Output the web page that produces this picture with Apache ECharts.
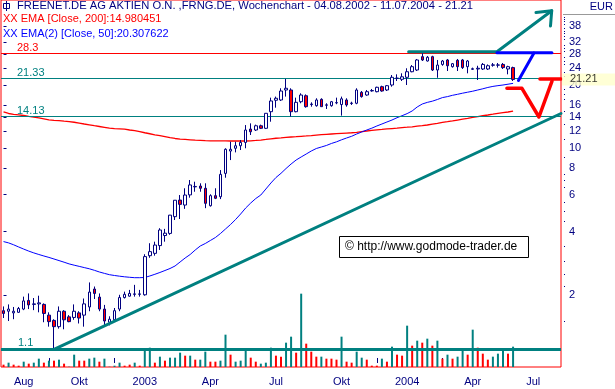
<!DOCTYPE html>
<html><head><meta charset="utf-8">
<script src="https://cdn.jsdelivr.net/npm/echarts@6/dist/echarts.min.js"></script>
<style>html,body{margin:0;padding:0;background:#fff}#c{width:615px;height:389px}</style>
</head><body><div id="c"></div>
<script>
// ---- data ----
const weekStart = '2002-08-04';
const slotCount = 111;
const openP  = [1.68,1.67,1.64,1.65,1.71,1.88,1.80,1.81,1.80,1.60,1.51,1.41,1.67,1.57,1.56,1.64,1.60,1.75,2.13,1.95,1.71,1.48,1.52,1.71,1.94,1.97,2.01,2.01,2.00,3.07,3.15,3.43,3.83,3.92,4.71,5.65,5.35,5.98,6.53,6.59,6.43,5.31,5.93,5.86,7.57,9.67,9.97,10.25,10.63,12.31,12.18,12.76,12.41,14.89,16.88,16.93,18.89,18.89,14.89,16.61,17.74,16.10,15.90,17.05,15.98,15.90,16.40,16.10,16.93,16.30,16.33,18.41,17.88,18.70,18.54,19.59,18.89,19.95,21.45,21.24,21.71,23.08,23.52,27.22,25.96,27.22,23.52,25.00,26.25,24.39,26.16,26.25,24.39,23.70,23.78,23.78,23.78,24.78,24.80,25.00,23.78,24.14];
const highP  = [1.76,1.80,1.75,1.75,1.96,2.03,1.93,1.98,1.82,1.65,1.53,1.76,1.69,1.60,1.80,1.67,1.92,2.29,2.19,2.03,1.79,1.58,1.73,2.00,2.07,2.11,2.23,2.11,3.12,3.52,3.58,4.15,4.12,4.80,5.65,5.97,6.43,7.04,6.91,6.79,6.79,6.02,6.43,7.85,9.97,10.71,10.71,10.91,12.86,13.10,12.92,12.92,14.65,17.37,17.57,19.25,21.33,19.25,17.37,18.22,18.00,16.50,17.25,17.25,16.33,16.75,17.37,17.57,17.25,16.61,19.25,18.68,18.89,19.10,19.58,19.80,19.95,22.26,22.43,22.68,23.97,24.83,26.54,28.30,27.40,27.50,26.25,26.25,26.54,25.40,26.54,26.54,26.25,24.14,24.64,25.40,25.00,25.40,25.40,25.40,24.64,24.39];
const lowP   = [1.55,1.50,1.53,1.64,1.69,1.71,1.69,1.65,1.48,1.41,1.10,1.38,1.37,1.48,1.52,1.46,1.41,1.67,1.91,1.67,1.43,1.43,1.49,1.67,1.92,1.96,1.96,1.96,1.98,3.00,3.07,3.27,3.58,3.86,4.54,4.59,5.13,5.80,6.19,6.19,5.17,5.26,5.71,5.71,7.22,8.76,9.53,9.78,9.97,11.53,12.05,12.31,12.31,13.34,15.56,16.75,17.57,14.13,14.79,16.33,15.56,15.73,15.73,15.73,15.34,15.73,16.16,14.26,15.73,16.03,16.16,17.37,17.74,18.54,18.41,18.54,18.68,19.59,20.85,20.85,19.95,22.94,23.26,25.96,25.80,23.26,21.60,24.64,23.26,24.14,23.26,23.79,22.68,23.52,21.08,23.52,23.52,24.39,24.14,23.78,22.43,20.85];
const closeP = [1.63,1.71,1.67,1.72,1.87,1.79,1.81,1.83,1.63,1.49,1.41,1.67,1.52,1.49,1.67,1.55,1.81,2.06,2.03,1.71,1.50,1.53,1.68,1.94,2.01,2.03,2.02,2.02,3.04,3.21,3.45,4.07,3.93,4.79,5.64,5.39,5.97,6.67,6.56,6.43,5.45,5.93,5.76,7.49,9.86,9.86,10.25,10.63,12.18,11.95,12.76,12.41,14.63,16.75,17.25,18.68,19.25,14.89,16.50,17.88,15.73,16.20,16.93,15.73,16.05,16.61,16.45,17.15,16.03,16.36,18.89,17.57,18.54,18.78,19.46,18.68,19.80,21.71,21.52,21.83,23.08,24.39,26.25,26.25,27.04,23.52,24.83,25.96,24.64,25.20,24.39,24.14,25.96,23.85,23.97,25.00,24.64,24.88,24.86,24.14,24.39,21.21];
const ema200 = [14.84,14.60,14.47,14.39,14.28,14.14,14.02,13.90,13.76,13.62,13.55,13.49,13.42,13.36,13.26,13.14,13.01,12.90,12.77,12.66,12.55,12.44,12.37,12.33,12.29,12.18,12.09,11.98,11.82,11.69,11.56,11.46,11.33,11.20,11.10,11.02,10.98,10.94,10.90,10.87,10.84,10.82,10.82,10.81,10.81,10.80,10.80,10.80,10.80,10.82,10.86,10.91,10.98,11.06,11.13,11.18,11.24,11.28,11.32,11.37,11.41,11.46,11.52,11.57,11.62,11.66,11.70,11.74,11.78,11.82,11.88,11.97,12.05,12.13,12.21,12.26,12.32,12.38,12.44,12.51,12.56,12.62,12.70,12.77,12.87,13.00,13.11,13.23,13.34,13.46,13.59,13.72,13.85,13.99,14.11,14.24,14.36,14.49,14.63,14.74,14.84,14.98];
const ema50  = [3.584,3.533,3.460,3.378,3.301,3.229,3.166,3.111,3.060,3.013,2.961,2.910,2.859,2.806,2.767,2.731,2.695,2.660,2.616,2.568,2.529,2.493,2.471,2.452,2.436,2.423,2.412,2.412,2.418,2.458,2.504,2.554,2.610,2.668,2.743,2.866,2.994,3.111,3.268,3.415,3.510,3.627,3.748,3.916,4.115,4.323,4.566,4.850,5.179,5.471,5.747,5.972,6.379,6.813,7.236,7.577,7.986,8.389,8.765,9.064,9.363,9.676,9.945,10.11,10.28,10.51,10.70,10.94,11.16,11.37,11.66,11.92,12.18,12.43,12.73,13.01,13.30,13.59,13.94,14.25,14.58,15.01,15.68,16.20,16.49,16.71,17.02,17.38,17.57,17.82,18.02,18.24,18.44,18.64,18.89,19.14,19.42,19.65,19.81,19.95,20.13,20.31];
const volume = [7,13,7,4,16,10,13,25,13,19,19,22,10,1,37,19,19,25,28,16,25,1,4,13,4,7,13,4,52,58,13,31,19,28,28,43,34,34,22,22,46,16,16,19,97,37,16,19,49,28,16,10,13,58,34,31,73,91,43,220,70,46,31,31,25,25,22,91,16,13,46,28,22,4,4,25,16,61,37,34,124,64,79,73,85,64,79,25,37,25,31,49,37,112,58,40,22,31,40,52,40,61];
const volumeUp = [0,1,0,0,1,0,1,1,0,1,0,1,0,1,1,0,0,1,1,0,1,1,1,1,0,0,1,0,1,1,0,1,0,1,1,1,0,1,0,1,1,0,0,1,1,0,1,1,1,0,0,1,1,1,0,0,1,1,0,1,0,0,0,1,0,0,0,1,0,0,1,1,0,0,0,1,0,1,0,0,1,0,1,0,1,0,1,0,1,0,1,1,0,1,0,0,0,1,1,1,0,1];
const levels = [28.3, 21.33, 14.13, 1.1];
const levelLabels = ['28.3', '21.33', '14.13', '1.1'];
const lastPrice = 21.21;
const yTickValues = [2,4,6,8,10,12,14,16,20,24,28,32,38];
const yMinorValues = [1.5,2.2,2.5,2.9,3.4,4.5,5,5.5,6.5,7,7.5,9,11,13,15,17,18,19,22,23,25,26,27,29,30,31,33,34,35,36,37,39,40,41,42];
const xTickIdx = [9,22,35,48,61,74,87,100];
const xLabelIdx = [4,15,28,41,54,67,80,93,105];
const xLabelNames = ['Aug','Okt','2003','Apr','Jul','Okt','2004','Apr','Jul'];
const trendIdx = [10, 110.5];        const trendVal = [1.1, 14.6];
const tealArrowIdx = [80.3, 97.8, 108.66]; const tealArrowVal = [28.74, 28.74, 45.07];
const tealHeadIdx = [105.54, 108.66, 108.42]; const tealHeadVal = [44.19, 45.07, 38.1];
const blueBarIdx = [97.8, 108.7];    const blueBarVal = [28.43, 28.43];
const blueDiagIdx = [102.06, 105.14]; const blueDiagVal = [20.96, 28.34];
const redVIdx = [99.78, 102.76, 106.13, 108.72]; const redVVal = [19.25, 19.25, 14.05, 20.84];
const redBarIdx = [106.33, 110.5];   const redBarVal = [21.33, 21.33];
const titleText = 'FREENET.DE AG AKTIEN O.N. ,FRNG.DE, Wochenchart - 04.08.2002 - 11.07.2004 - 21.21';
const ema200Text = 'XX EMA [Close, 200]:14.980451';
const ema50Text = 'XX EMA(2) [Close, 50]:20.307622';
const copyText = '\u00a9 http://www.godmode-trader.de';

// ---- build ----
const L = v => Math.log10(v);
const t0 = Date.parse(weekStart + 'T00:00:00Z');
const cats = [];
for (let i = 0; i < slotCount; i++) cats.push(new Date(t0 + i * 7 * 864e5).toISOString().slice(0, 10));
const candleData = openP.map((o, i) => [L(o), L(closeP[i]), L(lowP[i]), L(highP[i])]);
const pts = (xs, ys) => xs.map((x, i) => [x, L(ys[i])]);
const FONT = 'Liberation Sans';
const NAVY = '#000080', TEAL = '#008080', RED = '#ff0000';
const yMin = -0.04286, yMax = 1.70476;

const levelColor = [RED, TEAL, TEAL, TEAL];
const levelWidth = [1, 1, 1, 3];

function overlay(name, data, color, width) {
  return { name, type: 'line', xAxisIndex: 2, yAxisIndex: 0, data, symbol: 'none', silent: true,
    lineStyle: { color, width, cap: 'round', join: 'round' }, z: 6, animation: false };
}

const chart = echarts.init(document.getElementById('c'), null, { renderer: 'canvas', width: 615, height: 389 });
chart.setOption({
  animation: false,
  backgroundColor: '#ffffff',
  textStyle: { fontFamily: FONT },
  grid: [
    { left: 1, right: 54, top: 0, height: 367, show: true, borderColor: RED, borderWidth: 1, backgroundColor: 'transparent' },
    { left: 1, right: 54, top: 267, height: 100, show: false }
  ],
  xAxis: [
    { type: 'category', gridIndex: 0, data: cats, boundaryGap: true,
      axisLine: { show: false },
      axisTick: { show: true, alignWithLabel: true, interval: (i) => xTickIdx.includes(i), length: 5, lineStyle: { color: NAVY } },
      axisLabel: { show: true, interval: (i) => xLabelIdx.includes(i), formatter: (v, i) => { const k = xLabelIdx.indexOf(i); return k >= 0 ? xLabelNames[k] : ''; },
        color: NAVY, fontSize: 11, fontFamily: FONT, margin: 9 },
      splitLine: { show: false } },
    { type: 'category', gridIndex: 1, data: cats, boundaryGap: true, show: false },
    { type: 'value', gridIndex: 0, min: -0.5, max: slotCount - 0.5, show: false }
  ],
  yAxis: [
    { type: 'value', gridIndex: 0, position: 'right', min: yMin, max: yMax, offset: 3,
      axisLine: { show: false }, splitLine: { show: false },
      axisTick: { show: true, customValues: yTickValues.map(L), length: 3, lineStyle: { color: NAVY } },
      axisLabel: { show: true, customValues: yTickValues.map(L), formatter: v => String(Math.round(Math.pow(10, v))),
        color: NAVY, fontSize: 11, fontFamily: FONT, margin: 5 } },
    { type: 'value', gridIndex: 1, min: 0, max: 300, show: false },
    { type: 'value', gridIndex: 0, position: 'right', min: yMin, max: yMax, offset: 3,
      axisLine: { show: false }, splitLine: { show: false }, axisLabel: { show: false },
      axisTick: { show: true, customValues: yMinorValues.map(L), length: 1, lineStyle: { color: NAVY } } }
  ],
  series: [
    { name: 'vol', type: 'bar', xAxisIndex: 1, yAxisIndex: 1, barWidth: 2, z: 1,
      data: volume.map((v, i) => ({ value: v, itemStyle: { color: volumeUp[i] ? TEAL : RED } })) },
    { name: 'ema200', type: 'line', xAxisIndex: 0, yAxisIndex: 0, data: ema200.map(L), symbol: 'none',
      lineStyle: { color: RED, width: 1.3 }, z: 3 },
    { name: 'ema50', type: 'line', xAxisIndex: 0, yAxisIndex: 0, data: ema50.map(L), symbol: 'none',
      lineStyle: { color: '#0000ff', width: 1 }, z: 3 },
    { name: 'k', type: 'candlestick', xAxisIndex: 0, yAxisIndex: 0, data: candleData, barWidth: 3, z: 5,
      itemStyle: { color: '#ffffff', color0: RED, borderColor: NAVY, borderColor0: NAVY, borderWidth: 1 },
      markLine: { silent: true, symbol: 'none', animation: false,
        data: levels.map((lv, k) => ({ yAxis: L(lv),
          lineStyle: { color: levelColor[k], width: levelWidth[k], type: 'solid' },
          label: { show: true, position: 'insideStartTop', formatter: levelLabels[k], color: levelColor[k],
            fontSize: 11, fontFamily: FONT, padding: [0, 0, 0, 16], distance: k === 3 ? 1 : 0 } })) } },
    { name: 'last', type: 'scatter', xAxisIndex: 2, yAxisIndex: 0, clip: false, z: 20, silent: true,
      symbolSize: 0, data: [[slotCount - 0.5, L(lastPrice)]],
      label: { show: true, position: 'right', distance: 1, formatter: String(lastPrice), color: '#000000',
        backgroundColor: '#ffffcc', fontSize: 11, fontFamily: FONT, padding: [1, 24, 0, 8], lineHeight: 11 } },
    overlay('trend', pts(trendIdx, trendVal), TEAL, 3),
    overlay('tealArrow', pts(tealArrowIdx, tealArrowVal), TEAL, 3),
    overlay('tealHead', pts(tealHeadIdx, tealHeadVal), TEAL, 3),
    overlay('blueBar', pts(blueBarIdx, blueBarVal), '#0000ff', 3),
    overlay('blueDiag', pts(blueDiagIdx, blueDiagVal), '#0000ff', 3),
    overlay('redV', pts(redVIdx, redVVal), RED, 3.5),
    overlay('redBar', pts(redBarIdx, redBarVal), RED, 3.5)
  ],
  graphic: [
    { type: 'rect', shape: { x: 3.5, y: 3.5, width: 6, height: 5 }, style: { fill: 'none', stroke: NAVY, lineWidth: 1 }, z: 100 },
    { type: 'line', shape: { x1: 6.5, y1: 1, x2: 6.5, y2: 11 }, style: { stroke: NAVY, lineWidth: 1 }, z: 100 },
    { type: 'text', left: 17, top: 0, z: 100, style: { text: titleText, fill: NAVY, font: '11.2px "Liberation Sans"' } },
    { type: 'text', left: 3, top: 13, z: 100, style: { text: ema200Text, fill: RED, font: '11px "Liberation Sans"' } },
    { type: 'text', left: 3, top: 28, z: 100, style: { text: ema50Text, fill: '#0000ff', font: '11px "Liberation Sans"' } },
    { type: 'text', right: 2, top: 1, z: 100, style: { text: 'EUR', fill: NAVY, font: '11px "Liberation Sans"' } },
    { type: 'line', shape: { x1: 563, y1: 14.5, x2: 615, y2: 14.5 }, style: { stroke: '#999999', lineWidth: 1 }, z: 100 },
    { type: 'group', left: 339, top: 236, z: 100, children: [
      { type: 'rect', shape: { x: 0.5, y: 0.5, width: 189, height: 21 }, style: { fill: '#ffffff', stroke: '#000000', lineWidth: 1 } },
      { type: 'text', x: 6, y: 5, style: { text: copyText, fill: '#000000', font: '12px "Liberation Sans"' } }
    ] }
  ]
});
</script></body></html>
